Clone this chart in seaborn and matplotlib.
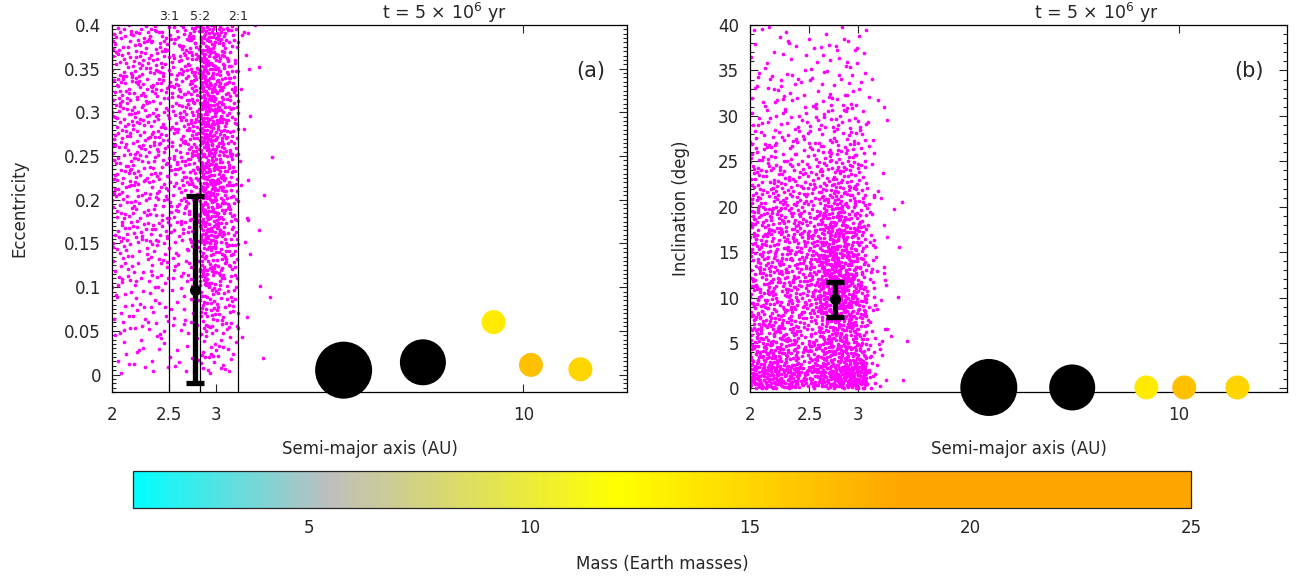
import numpy as np
import pandas as pd
import matplotlib
matplotlib.use("Agg")
import matplotlib.pyplot as plt
import seaborn as sns
from matplotlib.colors import LinearSegmentedColormap, Normalize
from matplotlib.cm import ScalarMappable
from matplotlib.ticker import FixedLocator, MultipleLocator, NullLocator, FuncFormatter

# ---------------- data ----------------
# asteroid-belt density (number of bodies per bin), panel (a): a vs e
ecc_a_edges = [2.0, 2.1, 2.2, 2.3, 2.4, 2.5, 2.6, 2.7, 2.82, 2.9, 3.0, 3.1, 3.2, 3.28, 3.45, 3.75]
ecc_edges = [0.0, 0.05, 0.10, 0.15, 0.20, 0.25, 0.30, 0.35, 0.40]
ecc_counts = [
    [4, 4, 4, 4, 4, 3, 3, 4, 8, 9, 8, 5, 4, 1, 1],
    [8, 8, 6, 6, 6, 5, 6, 8, 15, 18, 14, 10, 6, 1, 1],
    [11, 10, 10, 10, 9, 8, 9, 13, 25, 28, 20, 14, 9, 2, 1],
    [15, 15, 14, 14, 13, 11, 15, 21, 38, 40, 28, 18, 10, 3, 1],
    [18, 18, 16, 16, 15, 14, 18, 26, 41, 43, 30, 19, 11, 3, 1],
    [19, 19, 18, 18, 16, 15, 19, 29, 41, 41, 30, 19, 11, 3, 1],
    [19, 19, 18, 18, 16, 15, 19, 29, 39, 38, 28, 18, 10, 3, 1],
    [19, 19, 18, 18, 16, 15, 19, 26, 36, 35, 25, 16, 9, 3, 1],
]

# panel (b): a vs inclination
inc_a_edges = [2.0, 2.1, 2.2, 2.3, 2.4, 2.5, 2.6, 2.7, 2.8, 2.9, 3.0, 3.1, 3.2, 3.35, 3.65]
inc_edges = [0, 2.5, 5, 7.5, 10, 12.5, 15, 17.5, 20, 22.5, 25, 27.5, 30, 32.5, 35, 37.5, 40]
inc_counts = [
    [42, 39, 36, 34, 21, 26, 31, 34, 36, 39, 34, 8, 3, 1],
    [29, 26, 23, 21, 13, 16, 20, 21, 23, 23, 18, 5, 3, 1],
    [21, 20, 18, 17, 12, 13, 18, 21, 21, 18, 13, 4, 3, 1],
    [18, 17, 16, 16, 13, 16, 26, 31, 29, 21, 13, 4, 3, 1],
    [17, 16, 16, 16, 13, 18, 29, 34, 31, 21, 13, 5, 3, 1],
    [17, 16, 16, 16, 13, 18, 29, 31, 26, 18, 12, 4, 3, 1],
    [16, 16, 14, 14, 13, 16, 23, 26, 21, 16, 10, 4, 1, 1],
    [16, 14, 14, 13, 12, 13, 18, 21, 16, 13, 9, 3, 1, 1],
    [13, 13, 12, 12, 10, 10, 13, 16, 13, 10, 8, 3, 1, 1],
    [10, 10, 10, 9, 9, 9, 10, 10, 10, 9, 7, 3, 1, 0],
    [8, 8, 8, 7, 7, 7, 8, 8, 8, 7, 5, 3, 1, 0],
    [6, 5, 5, 5, 5, 5, 5, 6, 5, 5, 4, 1, 1, 0],
    [4, 4, 4, 4, 4, 4, 4, 4, 4, 4, 3, 1, 1, 0],
    [3, 3, 3, 3, 3, 3, 3, 3, 3, 3, 2, 1, 0, 0],
    [2, 2, 2, 2, 2, 2, 2, 2, 2, 2, 1, 0, 0, 0],
    [2, 2, 2, 2, 1, 1, 2, 2, 2, 2, 1, 0, 0, 0],
]

# giant planets
planet_a_ecc = [4.95, 6.75, 8.9, 10.3, 12.5]
planet_ecc = [0.005, 0.014, 0.060, 0.011, 0.006]
planet_a_inc = [4.9, 6.7, 8.85, 10.2, 12.45]
planet_inc = [0.1, 0.1, 0.1, 0.1, 0.1]
planet_mass = [317.8, 95.2, 13.5, 16.5, 15.0]

# mean and spread of the belt
belt_a_ecc, belt_e_mean, belt_e_err = 2.77, 0.097, 0.107
belt_a_inc, belt_i_mean, belt_i_err = 2.75, 9.8, 1.9

resonance_a = [2.50, 2.82, 3.27]
resonance_labels = ["3:1", "5:2", "2:1"]

xticks = [2, 2.5, 3, 10]
mass_ticks = [5, 10, 15, 20, 25]

# ---------------- styles ----------------
planet_diam_px = [57, 46, 24, 24, 24]
MAGENTA = "#ff00ff"


def radical_inverse(n, base):
    n = np.asarray(n, dtype=np.int64).copy()
    out = np.zeros(n.shape, float)
    f = 1.0 / base
    while np.any(n > 0):
        out += f * (n % base)
        n //= base
        f /= base
    return out


def place_in_bins(a_edges, y_edges, counts, start):
    """Deterministic placement: a Halton (2,3,7) sequence is thinned so that
    each bin keeps about the count read from the picture."""
    a_edges = np.asarray(a_edges, float)
    y_edges = np.asarray(y_edges, float)
    counts = np.asarray(counts, float)
    la = np.log(a_edges)
    fa = np.diff(la) / (la[-1] - la[0])
    fy = np.diff(y_edges) / (y_edges[-1] - y_edges[0])
    area = fy[:, None] * fa[None, :]
    n_cand = int(np.ceil(1.6 * (counts / area).max()))
    k = np.arange(start, start + n_cand)
    u, v, w = radical_inverse(k, 2), radical_inverse(k, 3), radical_inverse(k, 7)
    lx = la[0] + u * (la[-1] - la[0])
    yy = y_edges[0] + v * (y_edges[-1] - y_edges[0])
    j = np.clip(np.searchsorted(la, lx, side="right") - 1, 0, len(fa) - 1)
    i = np.clip(np.searchsorted(y_edges, yy, side="right") - 1, 0, len(fy) - 1)
    p = counts[i, j] / (n_cand * area[i, j])
    keep = w < p
    return pd.DataFrame({"a": np.exp(lx[keep]), "y": yy[keep]})


ast_e = place_in_bins(ecc_a_edges, ecc_edges, ecc_counts, 17)
ast_i = place_in_bins(inc_a_edges, inc_edges, inc_counts, 4001)

# ---------------- figure ----------------
sns.set_style("ticks")
plt.rcParams["font.family"] = ["DejaVu Sans"]
plt.rcParams["font.size"] = 12

cmap = LinearSegmentedColormap.from_list(
    "mass",
    [(0.0, "#00ffff"), ((5.4 - 1) / 24, "#bebebe"), ((12 - 1) / 24, "#ffff00"),
     ((18.5 - 1) / 24, "#ffa500"), (1.0, "#ffa500")])
cmap.set_over("black")
norm = Normalize(vmin=1, vmax=25)

W, H = 1299, 583
fig = plt.figure(figsize=(W / 100, H / 100), dpi=100)


def px_axes(l, r, t, b):
    return fig.add_axes([l / W, 1 - b / H, (r - l) / W, (b - t) / H])


axA = px_axes(112, 627, 25, 392)
axB = px_axes(750, 1287, 25, 392)
cax = px_axes(133, 1191, 471, 508)

panels = [
    (axA, ast_e, planet_a_ecc, planet_ecc, (belt_a_ecc, belt_e_mean, belt_e_err),
     (-0.02, 0.4), 0.05, 0.005, "Eccentricity", "(a)"),
    (axB, ast_i, planet_a_inc, planet_inc, (belt_a_inc, belt_i_mean, belt_i_err),
     (-0.4, 40), 5, 1, "Inclination (deg)", "(b)"),
]

palette = {m: cmap(norm(m)) for m in planet_mass}
sizes = {m: (d * 0.72) ** 2 for m, d in zip(planet_mass, planet_diam_px)}

for ax, ast, pa, py, belt, ylim, ymaj, ymin, ylabel, tag in panels:
    sns.scatterplot(data=ast, x="a", y="y", color=MAGENTA, s=7, linewidth=0,
                    ax=ax, zorder=2, legend=False)
    ax.set_xscale("log")
    ax.set_xlim(2, 15)
    ax.set_ylim(*ylim)

    if ax is axA:
        for ra, rl in zip(resonance_a, resonance_labels):
            ax.axvline(ra, color="black", lw=0.9, zorder=3)
            ax.text(ra, 1.006, rl, transform=ax.get_xaxis_transform(),
                    ha="center", va="bottom", fontsize=9)

    ax.errorbar([belt[0]], [belt[1]], yerr=[belt[2]], fmt="o", color="black",
                ms=7, elinewidth=3.8, capsize=6.5, capthick=3.8, zorder=4)

    pdf = pd.DataFrame({"a": pa, "y": py, "mass": planet_mass})
    sns.scatterplot(data=pdf, x="a", y="y", hue="mass", palette=palette,
                    size="mass", sizes=sizes, linewidth=0, ax=ax, zorder=5,
                    legend=False)
    ax.collections[-1].set_clip_on(False)

    ax.xaxis.set_major_locator(FixedLocator(xticks))
    ax.xaxis.set_minor_locator(NullLocator())
    ax.xaxis.set_major_formatter(FuncFormatter(lambda v, p: f"{v:g}"))
    ax.yaxis.set_major_locator(MultipleLocator(ymaj))
    ax.yaxis.set_minor_locator(MultipleLocator(ymin))
    ax.yaxis.set_major_formatter(FuncFormatter(lambda v, p: f"{v:g}"))
    ax.tick_params(which="both", direction="in", top=True, right=True,
                   width=0.8, labelsize=12)
    ax.tick_params(which="major", length=6)
    ax.tick_params(which="minor", length=3)
    ax.tick_params(axis="x", pad=10)
    ax.tick_params(axis="y", pad=8)
    for sp in ax.spines.values():
        sp.set_linewidth(0.9)
        sp.set_color("black")

    ax.set_xlabel("Semi-major axis (AU)", fontsize=12)
    ax.set_ylabel(ylabel, fontsize=12)
    ax.text(0.93, 0.875, tag, transform=ax.transAxes, ha="center",
            va="center", fontsize=15)
    ax.text(0.645, 1.0, r"t = 5 $\times$ 10$^{6}$ yr", transform=ax.transAxes,
            ha="center", va="bottom", fontsize=12.5)

axA.xaxis.set_label_coords(0.5, -0.13)
axB.xaxis.set_label_coords(0.5, -0.13)
axA.yaxis.set_label_coords(-(112 - 28) / 515, 0.5)
axB.yaxis.set_label_coords(-(750 - 690) / 537, 0.5)

sm = ScalarMappable(norm=norm, cmap=cmap)
cb = fig.colorbar(sm, cax=cax, orientation="horizontal")
cb.set_ticks(mass_ticks)
cb.ax.xaxis.set_major_formatter(FuncFormatter(lambda v, p: f"{v:g}"))
cax.tick_params(direction="in", top=True, bottom=True, length=6, width=0.8,
                labelsize=12, pad=8)
cb.outline.set_linewidth(0.9)
cb.set_label("Mass (Earth masses)", fontsize=12, labelpad=13)

fig.savefig("out.png", dpi=100)
